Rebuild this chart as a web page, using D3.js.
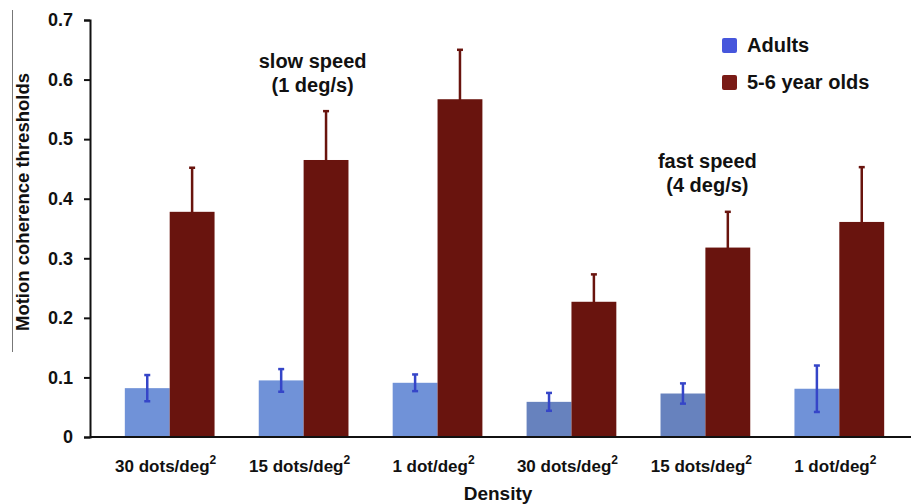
<!DOCTYPE html>
<html><head><meta charset="utf-8">
<script src="https://cdn.jsdelivr.net/npm/d3@7"></script>
<style>
body{margin:0;background:#fff;}
text{font-family:"Liberation Sans",Arial,sans-serif;font-weight:bold;fill:#111;}
</style></head>
<body><svg id="chart" width="911" height="504"></svg>
<script>
const categories = ["30 dots/deg", "15 dots/deg", "1 dot/deg", "30 dots/deg", "15 dots/deg", "1 dot/deg"];
const seriesNames = ["Adults", "5-6 year olds"];
const adults = [0.082, 0.095, 0.091, 0.059, 0.073, 0.081];
const adultErr = [0.022, 0.019, 0.014, 0.015, 0.017, 0.039];
const children = [0.378, 0.465, 0.567, 0.227, 0.318, 0.361];
const childErr = [0.074, 0.082, 0.083, 0.046, 0.060, 0.092];
const yTicks = [0, 0.1, 0.2, 0.3, 0.4, 0.5, 0.6, 0.7];
const yTickLabels = ["0", "0.1", "0.2", "0.3", "0.4", "0.5", "0.6", "0.7"];
const annotations = [{lines:["slow speed","(1 deg/s)"], group:1}, {lines:["fast speed","(4 deg/s)"], group:4}];

const adultFill = ["#7092d8","#7092d8","#7092d8","#6782be","#6782be","#7092d8"];
const childFill = "#69140e";
const legendFill = ["#4656dc", "#7a1b16"];

const svg = d3.select("#chart");
const y = d3.scaleLinear().domain([0, 0.7]).range([437, 20]);
const x = d3.scaleBand().domain(d3.range(categories.length)).range([90, 919]).paddingInner(0.33).paddingOuter(0.26);
const xs = d3.scaleBand().domain([0,1]).range([0, x.bandwidth()]);

// scan artifact line at left
svg.append("line").attr("x1",12.5).attr("x2",12.5).attr("y1",10).attr("y2",352).attr("stroke","#777").attr("stroke-width",1);

const g = svg.append("g");
// child error bars (drawn under bars)
categories.forEach((c,i)=>{
  const cx = x(i) + xs(1) + xs.bandwidth()/2;
  g.append("line").attr("x1",cx).attr("x2",cx).attr("y1",y(children[i]-childErr[i])).attr("y2",y(children[i]+childErr[i])).attr("stroke",childFill).attr("stroke-width",2.5);
  g.append("line").attr("x1",cx-3).attr("x2",cx+3).attr("y1",y(children[i]+childErr[i])).attr("y2",y(children[i]+childErr[i])).attr("stroke",childFill).attr("stroke-width",2.5);
});
// bars
g.selectAll("rect.ad").data(adults).join("rect").attr("class","ad")
  .attr("x",(d,i)=>x(i)+xs(0)).attr("width",xs.bandwidth())
  .attr("y",d=>y(d)).attr("height",d=>y(0)-y(d)).attr("fill",(d,i)=>adultFill[i]);
g.selectAll("rect.ch").data(children).join("rect").attr("class","ch")
  .attr("x",(d,i)=>x(i)+xs(1)).attr("width",xs.bandwidth())
  .attr("y",d=>y(d)).attr("height",d=>y(0)-y(d)).attr("fill",childFill);
// adult error bars
categories.forEach((c,i)=>{
  const cx = x(i) + xs(0) + xs.bandwidth()/2;
  const lo = y(adults[i]-adultErr[i]), hi = y(adults[i]+adultErr[i]);
  g.append("line").attr("x1",cx).attr("x2",cx).attr("y1",lo).attr("y2",hi).attr("stroke","#3545c8").attr("stroke-width",2.5);
  [lo,hi].forEach(v=>g.append("line").attr("x1",cx-3).attr("x2",cx+3).attr("y1",v).attr("y2",v).attr("stroke","#3545c8").attr("stroke-width",2.5));
});

// y axis
const yAxis = d3.axisLeft(y).tickValues(yTicks).tickFormat((d,i)=>yTickLabels[i]).tickSize(6).tickPadding(11);
const ya = svg.append("g").attr("transform","translate(90,0)").call(yAxis);
ya.select(".domain").attr("stroke","#111").attr("stroke-width",2);
ya.selectAll(".tick line").attr("stroke","#111").attr("stroke-width",2);
ya.selectAll("text").attr("font-size",18).attr("font-family","Liberation Sans, Arial, sans-serif").attr("font-weight","bold").attr("fill","#111");

// x axis line
svg.append("line").attr("x1",90).attr("x2",911).attr("y1",437).attr("y2",437).attr("stroke","#111").attr("stroke-width",2);
// category labels
categories.forEach((c,i)=>{
  const t = svg.append("text").attr("x", x(i)+x.bandwidth()/2 - 4).attr("y",472).attr("text-anchor","middle").attr("font-size",17);
  t.append("tspan").text(c);
  t.append("tspan").attr("dy",-8).attr("font-size",12).text("2");
});
svg.append("text").attr("x",498).attr("y",500).attr("text-anchor","middle").attr("font-size",19).text("Density");
svg.append("text").attr("transform","translate(29,202) rotate(-90)").attr("text-anchor","middle").attr("font-size",18.5).text("Motion coherence thresholds");

// annotations
annotations.forEach(a=>{
  const cx = a.group===1 ? x(1)+x.bandwidth()/2 + 9 : x(4)+x.bandwidth()/2 + 2;
  const by = a.group===1 ? 68 : 168;
  a.lines.forEach((l,k)=>svg.append("text").attr("x",cx).attr("y",by+k*24).attr("text-anchor","middle").attr("font-size",20).text(l));
});

// legend
seriesNames.forEach((s,k)=>{
  svg.append("rect").attr("x",722).attr("y",38+k*37).attr("width",15).attr("height",15).attr("rx",2).attr("fill",legendFill[k]);
  svg.append("text").attr("x",747).attr("y",52+k*37).attr("font-size",20).text(s);
});
</script></body></html>
